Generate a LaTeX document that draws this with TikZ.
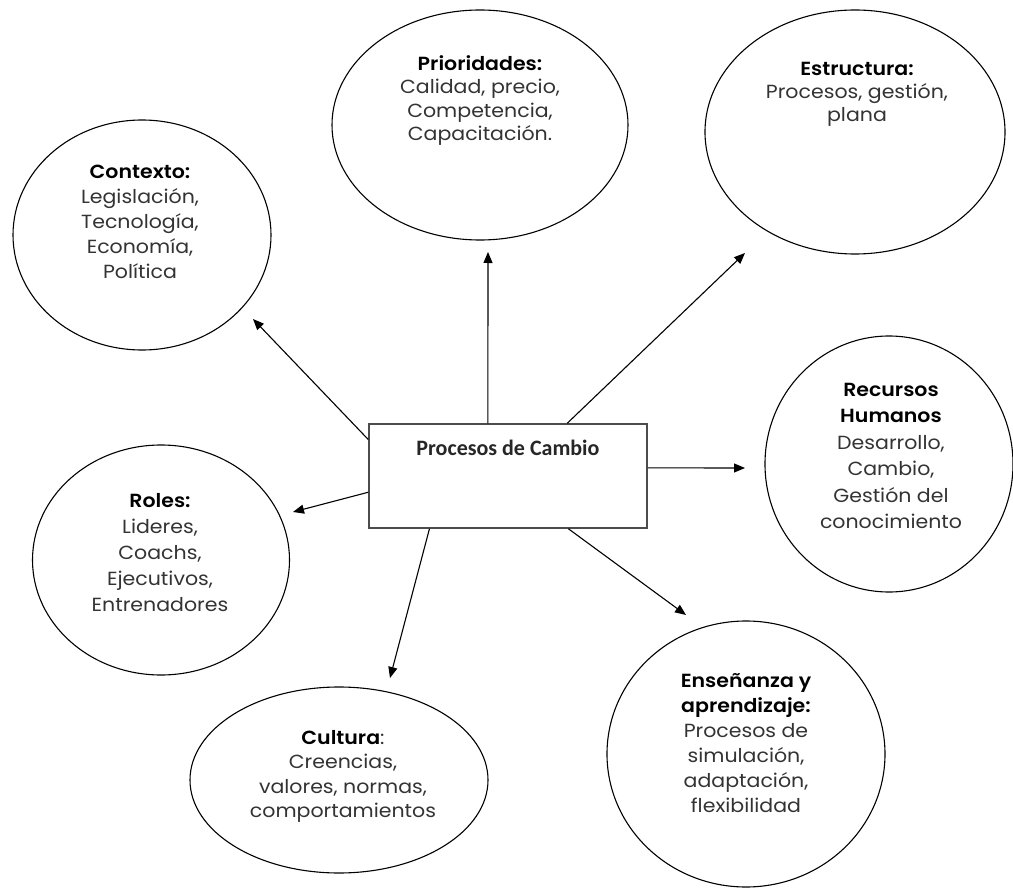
\documentclass[tikz,border=0pt]{standalone}
\usepackage{fontspec}
\setmainfont{Poppins}[FakeStretch=1.08, BoldFont={Poppins SemiBold}]
\newfontfamily\calib{Carlito}
\usetikzlibrary{shapes.geometric,arrows.meta,calc}
\begin{document}
\begin{tikzpicture}[x=1pt,y=-1pt,
  oval/.style={draw=black, line width=1.1pt, ellipse, inner sep=0pt},
  lbl/.style={anchor=north, inner sep=0pt, align=center, text=black!80, font=\fontsize{19}{24}\selectfont},
  arr/.style={draw=black, line width=1.1pt, -{Triangle[length=11pt,width=9pt]}},
  box/.style={draw=black!70, line width=1.5pt, inner sep=0pt, fill=white},
]
\useasboundingbox (0,0) rectangle (1013,888);
\fill[white] (0,0) rectangle (1013,888);

% ellipses
\node[oval, minimum width=296pt, minimum height=230pt] (prio) at (480,125) {};
\node[oval, minimum width=300pt, minimum height=244pt] (estr) at (855,132) {};
\node[oval, minimum width=258pt, minimum height=230pt] (ctx) at (142,235) {};
\node[oval, minimum width=248pt, minimum height=256pt] (rh) at (889,464) {};
\node[oval, minimum width=257pt, minimum height=230pt] (roles) at (161,560) {};
\node[oval, minimum width=298pt, minimum height=186pt] (cult) at (339,780) {};
\node[oval, minimum width=278pt, minimum height=266pt] (ens) at (746,754) {};

% texts
\node[lbl, font=\fontsize{19}{23.5}\selectfont] (tprio) at (480,55) {\textbf{\color{black}Prioridades:}\\Calidad, precio,\\Competencia,\\Capacitación.};
\node[lbl, font=\fontsize{19}{23}\selectfont] (testr) at (857,62) {\textbf{\color{black}Estructura:}\\Procesos, gestión,\\plana};
\node[lbl, font=\fontsize{19}{25}\selectfont] (tctx) at (140,165) {\textbf{\color{black}Contexto:}\\Legislación,\\Tecnología,\\Economía,\\Política};
\node[lbl, font=\fontsize{19}{26.5}\selectfont] (trh) at (891,383) {\textbf{\color{black}Recursos}\\\textbf{\color{black}Humanos}\\Desarrollo,\\Cambio,\\Gestión del\\conocimiento};
\node[lbl, font=\fontsize{19}{26}\selectfont] (troles) at (160,493) {\textbf{\color{black}Roles:}\\Lideres,\\Coachs,\\Ejecutivos,\\Entrenadores};
\node[lbl, font=\fontsize{19}{24.5}\selectfont] (tcult) at (343,730) {\textbf{\color{black}Cultura}:\\Creencias,\\valores, normas,\\comportamientos};
\node[lbl, font=\fontsize{19}{25}\selectfont] (tens) at (746,673) {\textbf{\color{black}Enseñanza y}\\\textbf{\color{black}aprendizaje:}\\Procesos de\\simulación,\\adaptación,\\flexibilidad};

% central box
\node[box, minimum width=278pt, minimum height=104pt] (rect) at (508,476) {};
\node[inner sep=0pt, text=black!85, font=\calib\bfseries\fontsize{22}{24}\selectfont] (ctitle) at (508,448) {Procesos de Cambio};

% arrow tips
\coordinate (hP) at (488,252);
\coordinate (hE) at (745,253);
\coordinate (hC) at (253,319);
\coordinate (hR) at (293,512);
\coordinate (hH) at (745,468);
\coordinate (hCu) at (390,678);
\coordinate (hEn) at (686,615);

\draw[arr] ($(rect.north west)!0.428!(rect.north east)$) -- (hP);
\draw[arr] ($(rect.north west)!0.712!(rect.north east)$) -- (hE);
\draw[arr] ($(rect.north west)!0.154!(rect.south west)$) -- (hC);
\draw[arr] ($(rect.north west)!0.654!(rect.south west)$) -- (hR);
\draw[arr] ($(rect.north east)!0.423!(rect.south east)$) -- (hH);
\draw[arr] ($(rect.south west)!0.219!(rect.south east)$) -- (hCu);
\draw[arr] ($(rect.south west)!0.716!(rect.south east)$) -- (hEn);
\end{tikzpicture}
\end{document}
